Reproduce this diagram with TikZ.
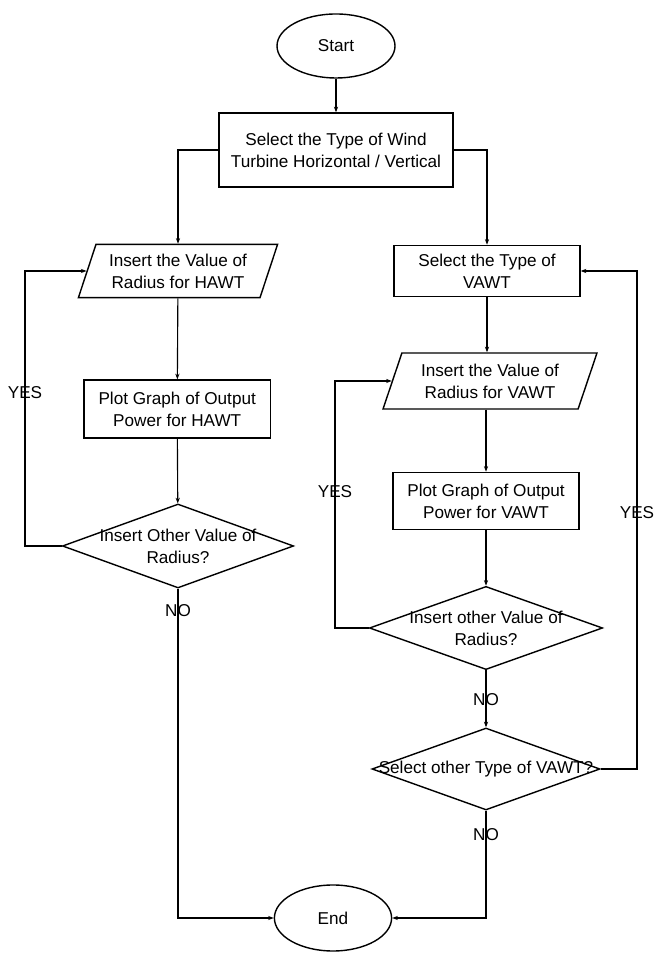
\documentclass[tikz,border=0pt]{standalone}
\usepackage{fontspec}
\setmainfont{Liberation Sans}
\usetikzlibrary{shapes.geometric,arrows.meta}

\tikzset{
    terminal/.style={draw, line width=1pt, ellipse, inner sep=0pt, minimum width=2.95cm, minimum height=1.6cm},
    process/.style={draw, line width=1pt, rectangle, align=center, inner sep=1pt, minimum width=4.65cm},
    inputbox/.style={draw, line width=1pt, trapezium, trapezium left angle=68, trapezium right angle=112,
        trapezium stretches=true, align=center, inner sep=1pt},
    decision/.style={draw, line width=1pt, diamond, inner sep=0pt},
    flowtext/.style={align=center, inner sep=0pt},
}

\begin{document}
\begin{tikzpicture}[line width=0.8pt, >={Stealth[length=4pt,width=3pt]},
    font=\fontsize{12.2}{15.6}\selectfont]

    \useasboundingbox (0,0) rectangle (16.35,23.825);

    %========================
    % Top: start and turbine type
    %========================
    \node[terminal] (start) at (8.4,22.675) {Start};
    \node[process, minimum width=5.85cm, minimum height=1.85cm] (seltype) at (8.4,20.075)
        {Select the Type of Wind\\Turbine Horizontal / Vertical};

    \draw[->] (start) -- (seltype);

    %========================
    % Left branch: HAWT
    %========================
    \node[inputbox, minimum width=4.98cm, minimum height=1.33cm] (radhawt) at (4.45,17.05)
        {Insert the Value of\\Radius for HAWT};
    \node[process, minimum height=1.45cm] (plothawt) at (4.43,13.6)
        {Plot Graph of Output\\Power for HAWT};
    \node[decision, minimum width=5.78cm, minimum height=2.1cm,
        label={[flowtext]center:Insert Other Value of\\Radius?}] (dechawt) at (4.45,10.175) {};

    \coordinate (loophawt) at (0.625,10.175);
    \node (yeshawt) at (0.625,14.0) {YES};
    \node (nohawt) at (4.45,8.55) {NO};

    \draw[->] (seltype.west) -| (radhawt.north);
    \draw[->] (radhawt) -- (plothawt);
    \draw[->] (plothawt) -- (dechawt);
    \draw[->] (dechawt.west) -- (loophawt) |- (radhawt.west);

    %========================
    % Right branch: VAWT
    %========================
    \node[process, minimum height=1.28cm] (selvawt) at (12.175,17.05)
        {Select the Type of\\VAWT};
    \node[inputbox, minimum width=5.35cm, minimum height=1.4cm] (radvawt) at (12.25,14.3)
        {Insert the Value of\\Radius for VAWT};
    \node[process, minimum height=1.43cm] (plotvawt) at (12.15,11.3)
        {Plot Graph of Output\\Power for VAWT};
    \node[decision, minimum width=5.83cm, minimum height=2.08cm,
        label={[flowtext]center:Insert other Value of\\Radius?}] (decvawt) at (12.15,8.125) {};
    \node[decision, minimum width=5.7cm, minimum height=2.05cm,
        label={[flowtext]center:Select other Type of VAWT?}] (decother) at (12.15,4.6) {};

    \coordinate (loopvawt) at (8.375,8.125);
    \coordinate (loopother) at (15.925,4.6);
    \node (yesvawt) at (8.375,11.525) {YES};
    \node (yesother) at (15.925,11.0) {YES};
    \node (novawt) at (12.15,6.325) {NO};
    \node (noother) at (12.15,2.95) {NO};

    \draw[->] (seltype.east) -| (selvawt.north);
    \draw[->] (selvawt) -- (radvawt.north -| selvawt.south);
    \draw[->] (radvawt.south -| plotvawt.north) -- (plotvawt);
    \draw[->] (plotvawt) -- (decvawt);
    \draw[->] (decvawt.west) -- (loopvawt) |- (radvawt.west);
    \draw[->] (decvawt) -- (decother);
    \draw[->] (decother.east) -- (loopother) |- (selvawt.east);

    %========================
    % Bottom: end
    %========================
    \node[terminal, minimum width=2.93cm, minimum height=1.65cm] (end) at (8.325,0.875) {End};

    \draw[->] (dechawt.south) |- (end.west);
    \draw[->] (decother.south) |- (end.east);

\end{tikzpicture}
\end{document}
